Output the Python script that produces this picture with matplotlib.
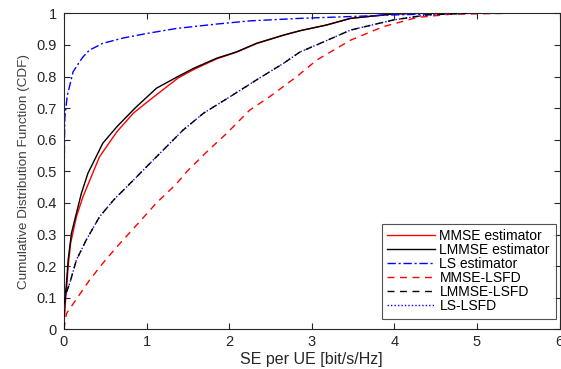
import matplotlib
matplotlib.use("Agg")
import matplotlib.pyplot as plt
from matplotlib.lines import Line2D

# SE values (bit/s/Hz) and CDF levels
mmse_se  = [0, 0.005, 0.015, 0.03, 0.05, 0.08, 0.15, 0.23, 0.33, 0.43, 0.64, 0.84, 1.04, 1.38, 1.57,
            1.85, 2.09, 2.33, 2.66, 2.86, 3.18, 3.47, 3.99, 4.30]
mmse_cdf = [0, 0.04, 0.08, 0.124, 0.198, 0.272, 0.356, 0.42, 0.483, 0.546, 0.625, 0.684, 0.726, 0.795, 0.822,
            0.856, 0.877, 0.904, 0.931, 0.945, 0.963, 0.984, 0.998, 1.0]

lmmse_se  = [0, 0.003, 0.01, 0.03, 0.05, 0.09, 0.15, 0.21, 0.29, 0.37, 0.47, 0.64, 0.86, 1.12, 1.38,
             1.57, 1.85, 2.09, 2.33, 2.66, 2.86, 3.18, 3.47, 3.99, 4.29]
lmmse_cdf = [0, 0.04, 0.09, 0.146, 0.219, 0.304, 0.367, 0.43, 0.494, 0.536, 0.589, 0.641, 0.70, 0.763, 0.80,
             0.826, 0.858, 0.878, 0.905, 0.931, 0.945, 0.963, 0.984, 0.998, 1.0]

ls_se  = [0, 0.001, 0.003, 0.006, 0.01, 0.04, 0.07, 0.11, 0.19, 0.23, 0.31, 0.35, 0.47, 0.72, 1.0, 1.36,
          1.85, 2.25, 2.86, 3.5, 4.0, 4.68, 5.0]
ls_cdf = [0, 0.3, 0.5, 0.6, 0.67, 0.74, 0.772, 0.815, 0.847, 0.862, 0.884, 0.889, 0.905, 0.922, 0.936, 0.952,
          0.966, 0.976, 0.984, 0.99, 0.995, 0.999, 1.0]

lsfd_se  = [0, 0.003, 0.01, 0.07, 0.15, 0.27, 0.43, 0.60, 0.84, 1.04, 1.20, 1.44, 1.69, 2.01, 2.33, 2.66,
            2.86, 3.06, 3.47, 3.99, 4.40, 4.88]
lsfd_cdf = [0, 0.05, 0.103, 0.146, 0.219, 0.283, 0.356, 0.409, 0.472, 0.525, 0.567, 0.63, 0.684, 0.736, 0.789, 0.842,
            0.878, 0.90, 0.947, 0.979, 0.995, 1.0]

mmse_lsfd_se  = [0, 0.01, 0.03, 0.17, 0.31, 0.47, 0.64, 0.88, 1.12, 1.36, 1.49, 1.75, 1.97, 2.25, 2.49, 2.82,
                 3.06, 3.47, 3.87, 4.28, 4.68, 5.40]
mmse_lsfd_cdf = [0, 0.02, 0.05, 0.103, 0.156, 0.209, 0.261, 0.33, 0.40, 0.46, 0.50, 0.567, 0.62, 0.694, 0.736, 0.80,
                 0.852, 0.915, 0.958, 0.987, 0.997, 1.0]

xticks = [0, 1, 2, 3, 4, 5, 6]
yticks = [0, 0.1, 0.2, 0.3, 0.4, 0.5, 0.6, 0.7, 0.8, 0.9, 1]

plt.rcParams['font.family'] = ['Liberation Sans', 'DejaVu Sans']
gray = '#262626'

fig = plt.figure(figsize=(5.61, 3.69), dpi=100)
ax = fig.add_axes([64/561, 1 - 329.3/369, 495.5/561, 316/369])

ax.plot(mmse_se, mmse_cdf, color='red', lw=1.0, label='MMSE estimator')
ax.plot(lmmse_se, lmmse_cdf, color='black', lw=1.0, label='LMMSE estimator')
ax.plot(ls_se, ls_cdf, color='blue', lw=1.0, linestyle=(0, (6, 2, 1.5, 2)), label='LS estimator')
ax.plot(mmse_lsfd_se, mmse_lsfd_cdf, color='red', lw=1.0, linestyle=(0, (5, 4)), label='MMSE-LSFD')
ax.plot(lsfd_se, lsfd_cdf, color='blue', lw=1.0, linestyle=(0, (1, 1.5)), zorder=2)
ax.plot(lsfd_se, lsfd_cdf, color='black', lw=1.0, linestyle=(0, (5, 4)), label='LMMSE-LSFD', zorder=3)

handles, labels = ax.get_legend_handles_labels()
handles.append(Line2D([], [], color='blue', lw=1.0, linestyle=(0, (1, 1.5))))
labels.append('LS-LSFD')

ax.set_xlim(0, 6)
ax.set_ylim(0, 1)
ax.set_xticks(xticks)
ax.set_yticks(yticks)
ax.set_xticklabels([str(v) for v in xticks])
ax.set_yticklabels(['0'] + [f'{v:g}' for v in yticks[1:-1]] + ['1'])
ax.tick_params(direction='in', top=True, right=True, length=4, width=0.8,
               labelsize=10.5, colors=gray)
ax.tick_params(axis='y', pad=5)
ax.tick_params(axis='x', pad=4)
for s in ax.spines.values():
    s.set_color(gray)
    s.set_linewidth(0.8)
ax.set_xlabel('SE per UE [bit/s/Hz]', fontsize=11.5, color=gray, labelpad=2)
ax.set_ylabel('Cumulative Distribution Function (CDF)', fontsize=9.7, color='#404040', labelpad=5)

leg = ax.legend(handles, labels, loc='lower right', bbox_to_anchor=(0.992, 0.033),
                fontsize=10, frameon=True, fancybox=False, handlelength=3.4,
                handletextpad=0.35, labelspacing=0.0, borderpad=0.4, borderaxespad=0)
leg.get_frame().set_edgecolor(gray)
leg.get_frame().set_linewidth(0.8)

fig.savefig('out.png', dpi=100)
